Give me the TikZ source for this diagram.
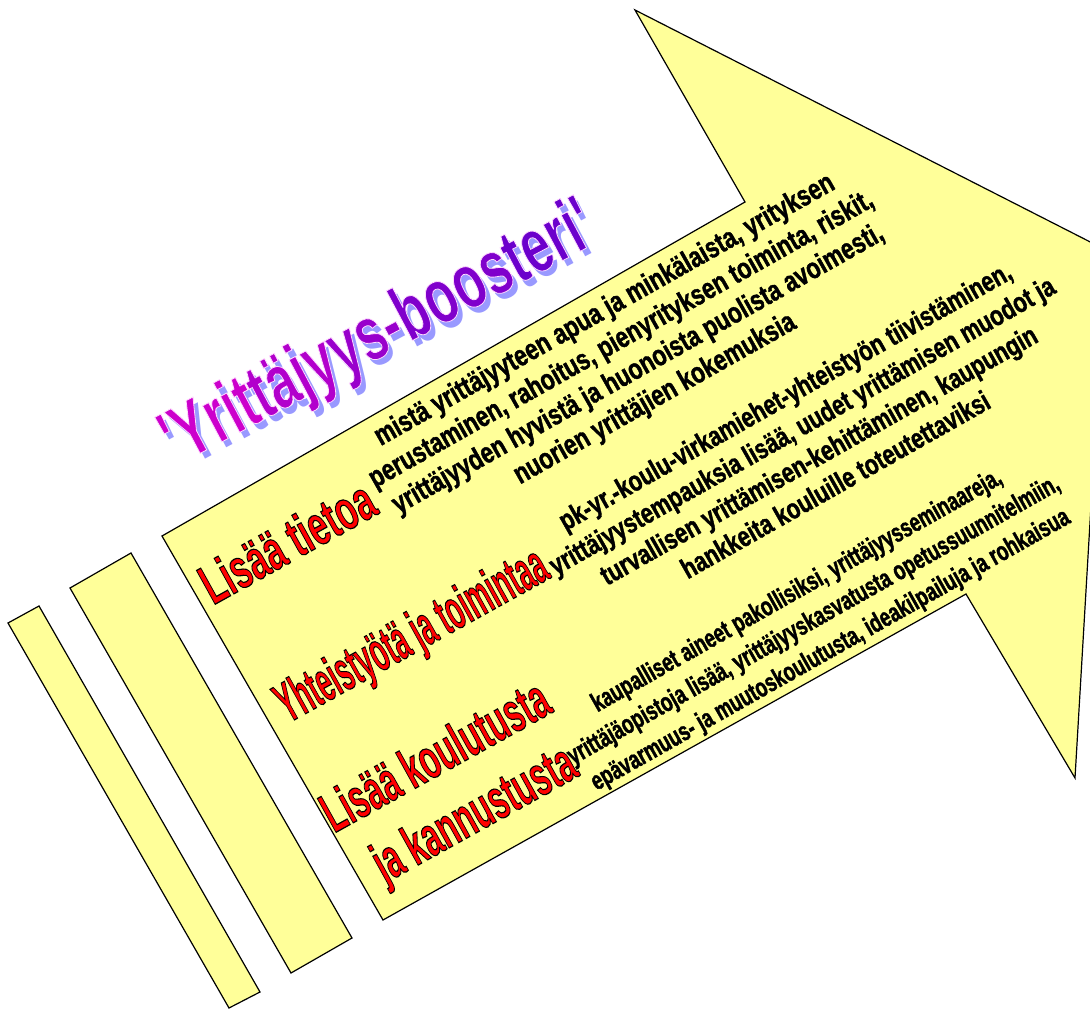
\documentclass[tikz,border=0pt]{standalone}
\usepackage{fontspec}
\usepackage{graphicx}
\setmainfont{Liberation Sans}
\newfontfamily\boostfont[FakeStretch=0.77]{Liberation Sans}
\newfontfamily\narrowfont[FakeStretch=0.70]{Liberation Sans}
\newfontfamily\titlefont[FakeStretch=0.67]{Liberation Sans}
\usepackage{tikz}

\definecolor{arrowfill}{RGB}{255,255,153}
\definecolor{titleshadow}{RGB}{153,153,255}
\definecolor{titleA}{RGB}{204,0,204}
\definecolor{titleB}{RGB}{178,0,204}
\definecolor{titleC}{RGB}{153,0,204}
\definecolor{titleD}{RGB}{128,0,204}
\definecolor{titleE}{RGB}{108,0,204}

% filled letters with a stroked edge
\newcommand{\edgetext}[4][0.6]{{\color{#2}\special{pdf:literal direct 2 Tr #3 RG #1 w}#4\special{pdf:literal direct 0 Tr}}}
\newcommand{\redhead}[2]{\scalebox{#1}[1]{\edgetext[0.9]{red}{0 0 0}{#2}}}
\newcommand{\heavy}{\special{pdf:literal direct 2 Tr 0 0 0 RG 0.3 w}}

\tikzset{
  bodytext/.style={rotate=29.5, align=center, inner sep=0.75pt},
  headtext/.style={rotate=29, anchor=base west, inner sep=0.75pt, font=\bfseries\fontsize{42}{44}\selectfont}
}

\begin{document}
\begin{tikzpicture}[x=0.75pt,y=0.75pt,yscale=-1,xscale=1]
\useasboundingbox (0,0) rectangle (1090,1010);
\clip (0,0) rectangle (1090,1010);
%Shape: bars
\draw [fill=arrowfill, line width=0.9]  (8,623) -- (39,606) -- (260,992) -- (229,1008) -- cycle ;
\draw [fill=arrowfill, line width=0.9]  (70,588) -- (131,553) -- (352,938) -- (291,973) -- cycle ;
%Shape: arrow
\draw [fill=arrowfill, line width=0.9]  (162,536) -- (745,202) -- (635,10) -- (1106,250) -- (1075,778) -- (966,594) -- (383,920) -- cycle ;

%Title
\draw (394,359) node (titleshade) [rotate=28, anchor=base, inner sep=0.75pt, text=titleshadow, font=\titlefont\bfseries\fontsize{58}{60}\selectfont] {'Yrittäjyys-boosteri'};
\draw (389,353) node (title) [rotate=28, anchor=base, inner sep=0.75pt, font=\titlefont\bfseries\fontsize{58}{60}\selectfont] {\edgetext{titleA}{1 0.85 1}{'Yrit}\edgetext{titleB}{1 0.85 1}{täjy}\edgetext{titleC}{1 0.85 1}{ys-}\edgetext{titleD}{1 0.85 1}{boos}\edgetext{titleE}{1 0.85 1}{teri'}};

%Headings
\draw (212,606) node (info) [headtext] {\redhead{0.62}{Lisää tietoa}};
\draw (287,724) node (coop) [headtext] {\redhead{0.48}{Yhteistyötä ja toimintaa}};
\draw (333,834) node (train) [headtext] {\redhead{0.57}{Lisää koulutusta}};
\draw (384,884) node (cheer) [headtext] {\redhead{0.57}{ja kannustusta}};

%Texts
\draw (630,355) node (infotext) [bodytext, font=\boostfont\bfseries\fontsize{22}{25.5}\selectfont] {\heavy mistä yrittäjyyteen apua ja minkälaista, yrityksen\\perustaminen, rahoitus, pienyrityksen toiminta, riskit,\\yrittäjyyden hyvistä ja huonoista puolista avoimesti,\\nuorien yrittäjien kokemuksia};
\draw (810,440) node (cooptext) [bodytext, font=\boostfont\bfseries\fontsize{21.3}{25.5}\selectfont] {\heavy pk-yr.-koulu-virkamiehet-yhteistyön tiivistäminen,\\yrittäjyystempauksia lisää, uudet yrittämisen muodot ja\\turvallisen yrittämisen-kehittäminen, kaupungin\\hankkeita kouluille toteutettaviksi};
\draw (814,621) node (traintext) [bodytext, font=\narrowfont\bfseries\fontsize{20}{25.5}\selectfont] {\heavy kaupalliset aineet pakollisiksi, yrittäjyysseminaareja,\\yrittäjäopistoja lisää, yrittäjyyskasvatusta opetussuunnitelmiin,\\epävarmuus- ja muutoskoulutusta, ideakilpailuja ja rohkaisua};
\end{tikzpicture}
\end{document}
